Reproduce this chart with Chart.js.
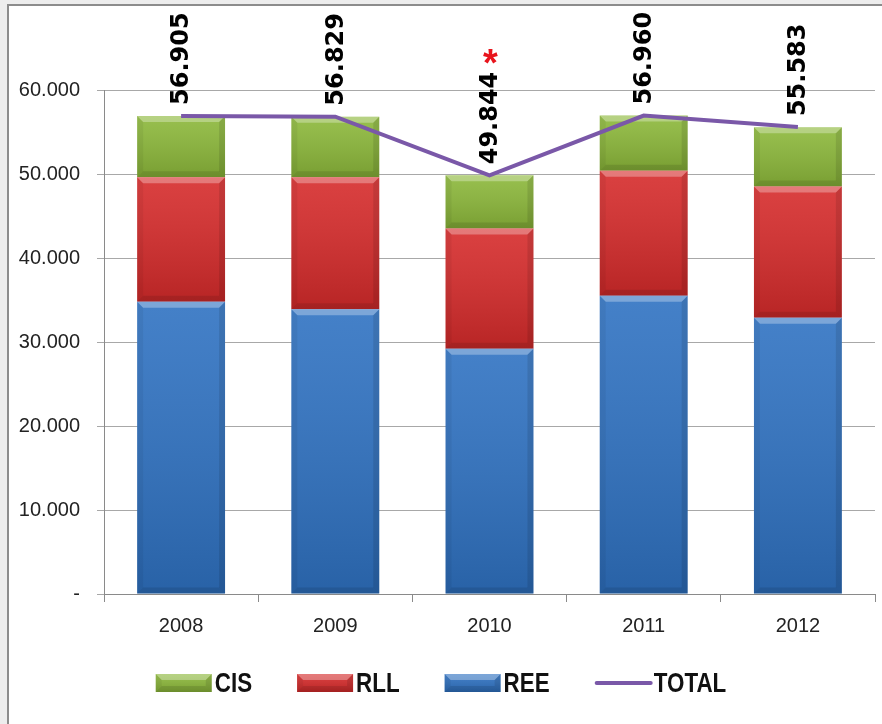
<!DOCTYPE html>
<html lang="es">
<head>
<meta charset="UTF-8">
<title>CIS / RLL / REE 2008-2012</title>
<style>
  html, body {
    margin: 0;
    padding: 0;
    background: #ededed;
  }
  body {
    position: relative;
    width: 882px;
    height: 724px;
    overflow: hidden;
  }
  .frame {
    position: absolute;
    left: 7px;
    top: 4px;
    width: 900px;
    height: 740px;
    background: #fff;
    border-left: 2px solid #8c8c8c;
    border-top: 2px solid #8c8c8c;
  }
  .wrap {
    position: absolute;
    left: 0;
    top: 0;
    width: 882px;
    height: 724px;
  }
</style>
</head>
<body>
<div class="frame"></div>
<div class="wrap"><canvas id="chart"></canvas></div>

<script src="https://cdn.jsdelivr.net/npm/chart.js"></script>
<script>
// data
const years = ['2008', '2009', '2010', '2011', '2012'];
const ree = [34800, 33900, 29200, 35500, 32900];
const rll = [14800, 15700, 14300, 14900, 15600];
const cis = [7300, 7230, 6340, 6560, 7080];
const totals = [56905, 56829, 49844, 56960, 55583];
const totalNotes = ['', '', '*', '', ''];
const yTicks = [0, 10000, 20000, 30000, 40000, 50000, 60000];

const colors = {
  CIS: '#8cb83a',
  RLL: '#d62b2b',
  REE: '#2f72c2',
  TOTAL: '#7a58a8'
};

// 56905 -> "56.905"
function fmt(v) {
  return String(Math.round(v)).replace(/\B(?=(\d{3})+(?!\d))/g, '.');
}

// soft excel-like bevel over a flat rectangle
function bevel(ctx, l, t, r, b) {
  const h = b - t, w = r - l;
  if (h <= 0 || w <= 0) return;
  const e = Math.min(6, h / 3, w / 4);
  ctx.save();
  const g = ctx.createLinearGradient(0, t, 0, b);
  g.addColorStop(0, 'rgba(255,255,255,0.10)');
  g.addColorStop(1, 'rgba(0,0,0,0.14)');
  ctx.fillStyle = g;
  ctx.fillRect(l, t, w, h);
  // top highlight
  ctx.fillStyle = 'rgba(255,255,255,0.30)';
  ctx.beginPath();
  ctx.moveTo(l, t); ctx.lineTo(r, t); ctx.lineTo(r - e, t + e); ctx.lineTo(l + e, t + e);
  ctx.closePath(); ctx.fill();
  // left edge
  ctx.fillStyle = 'rgba(0,0,0,0.05)';
  ctx.beginPath();
  ctx.moveTo(l, t); ctx.lineTo(l + e, t + e); ctx.lineTo(l + e, b - e); ctx.lineTo(l, b);
  ctx.closePath(); ctx.fill();
  // right edge
  ctx.fillStyle = 'rgba(0,0,0,0.10)';
  ctx.beginPath();
  ctx.moveTo(r, t); ctx.lineTo(r - e, t + e); ctx.lineTo(r - e, b - e); ctx.lineTo(r, b);
  ctx.closePath(); ctx.fill();
  // bottom edge
  ctx.fillStyle = 'rgba(0,0,0,0.10)';
  ctx.beginPath();
  ctx.moveTo(l, b); ctx.lineTo(r, b); ctx.lineTo(r - e, b - e); ctx.lineTo(l + e, b - e);
  ctx.closePath(); ctx.fill();
  ctx.restore();
}

const barBevel = {
  id: 'barBevel',
  afterDatasetDraw(chart, args) {
    if (args.meta.type !== 'bar') return;
    const ctx = chart.ctx;
    args.meta.data.forEach(el => {
      const half = el.width / 2;
      bevel(ctx, el.x - half, Math.min(el.y, el.base), el.x + half, Math.max(el.y, el.base));
    });
  }
};

// rotated total labels above the line
const totalLabels = {
  id: 'totalLabels',
  afterDatasetsDraw(chart) {
    const ctx = chart.ctx;
    const x = chart.scales.x, y = chart.scales.y;
    totals.forEach((t, i) => {
      const px = x.getPixelForValue(i) + 1;
      const py = y.getPixelForValue(t) - 11;
      const text = fmt(t);
      ctx.save();
      ctx.font = 'bold 24px "DejaVu Sans"';
      const w = ctx.measureText(text).width;
      ctx.translate(px, py);
      ctx.rotate(-Math.PI / 2);
      ctx.fillStyle = '#000';
      ctx.textAlign = 'left';
      ctx.textBaseline = 'middle';
      ctx.fillText(text, 0, 0);
      ctx.restore();
      if (totalNotes[i]) {
        ctx.save();
        ctx.font = 'bold 38px "Liberation Sans"';
        ctx.fillStyle = '#e8141c';
        ctx.textAlign = 'center';
        ctx.textBaseline = 'middle';
        ctx.fillText(totalNotes[i], px, py - w - 6);
        ctx.restore();
      }
    });
  }
};

// legend like the excel one: CIS, RLL, REE, TOTAL (condensed bold text)
const bottomLegend = {
  id: 'bottomLegend',
  afterDraw(chart) {
    const ctx = chart.ctx;
    const ds = chart.data.datasets;
    const items = [ds[2], ds[1], ds[0], ds[3]];
    const markW = 56, gapText = 3, gapItem = 45, cy = 683, squeeze = 0.8;
    ctx.save();
    ctx.font = 'bold 28px "Liberation Sans", sans-serif';
    const textW = items.map(d => ctx.measureText(d.label).width * squeeze);
    const widths = textW.map(tw => markW + gapText + tw);
    const total = widths.reduce((a, b) => a + b, 0) + gapItem * (items.length - 1);
    let x = (chart.width - total) / 2;
    items.forEach((d, i) => {
      if (d.type === 'line') {
        ctx.strokeStyle = d.borderColor;
        ctx.lineWidth = 4;
        ctx.lineCap = 'round';
        ctx.beginPath();
        ctx.moveTo(x + 2, cy);
        ctx.lineTo(x + markW, cy);
        ctx.stroke();
      } else {
        ctx.fillStyle = d.backgroundColor;
        ctx.fillRect(x, cy - 9, markW, 18);
        bevel(ctx, x, cy - 9, x + markW, cy + 9);
      }
      ctx.save();
      ctx.translate(x + markW + gapText, cy + 1);
      ctx.scale(squeeze, 1);
      ctx.fillStyle = '#111';
      ctx.textAlign = 'left';
      ctx.textBaseline = 'middle';
      ctx.fillText(d.label, 0, 0);
      ctx.restore();
      x += widths[i] + gapItem;
    });
    ctx.restore();
  }
};

const chart = new Chart(document.getElementById('chart'), {
  type: 'bar',
  data: {
    labels: years,
    datasets: [
      { label: 'REE', data: ree, backgroundColor: colors.REE, order: 1 },
      { label: 'RLL', data: rll, backgroundColor: colors.RLL, order: 1 },
      { label: 'CIS', data: cis, backgroundColor: colors.CIS, order: 1 },
      {
        type: 'line', label: 'TOTAL', data: totals, stack: 'total',
        borderColor: colors.TOTAL, backgroundColor: colors.TOTAL,
        borderWidth: 4, pointRadius: 0, tension: 0, fill: false, order: 0
      }
    ]
  },
  options: {
    responsive: true,
    maintainAspectRatio: false,
    animation: false,
    layout: { padding: { top: 90, right: 7, bottom: 0, left: 0 } },
    datasets: {
      bar: { barPercentage: 0.57, categoryPercentage: 1, borderWidth: 0 }
    },
    plugins: {
      legend: { display: false },
      tooltip: { enabled: false }
    },
    scales: {
      x: {
        stacked: true,
        afterFit(scale) { scale.height = 130; },
        grid: { drawOnChartArea: false, drawTicks: true, tickLength: 8, color: '#8a8a8a' },
        border: { color: '#8a8a8a' },
        ticks: { color: '#222', padding: 12, font: { family: 'Liberation Sans', size: 20 } }
      },
      y: {
        stacked: true,
        min: 0,
        max: 60000,
        afterFit(scale) { scale.width = 104; },
        afterBuildTicks(scale) { scale.ticks = yTicks.map(v => ({ value: v })); },
        grid: { color: '#a8a8a8', tickLength: 7 },
        border: { color: '#8a8a8a' },
        ticks: {
          color: '#222',
          padding: 17,
          font: { family: 'Liberation Sans', size: 20 },
          callback: v => v === 0 ? '-' : fmt(v)
        }
      }
    }
  },
  plugins: [barBevel, totalLabels, bottomLegend]
});
</script>
</body>
</html>
